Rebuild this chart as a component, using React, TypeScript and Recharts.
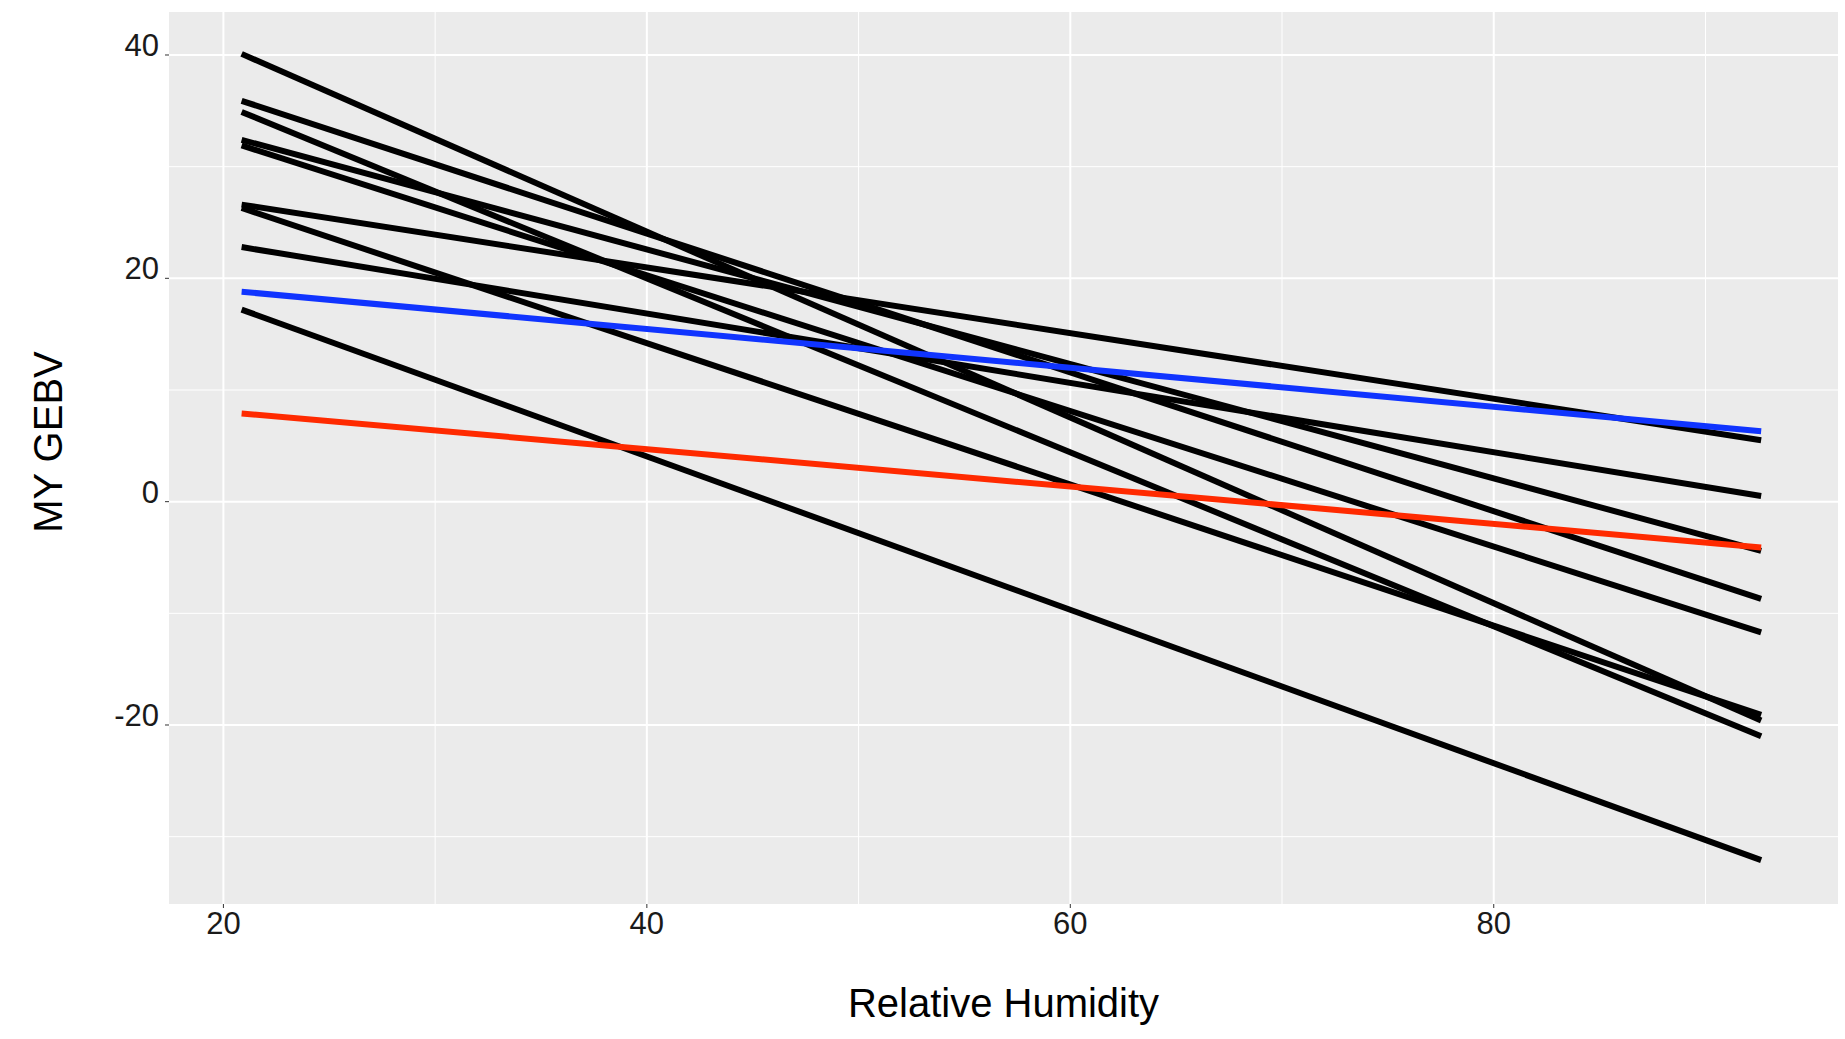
import { LineChart, Line, XAxis, YAxis, CartesianGrid } from 'recharts';

// relative humidity at the two ends of every fitted line
const humidity = [20.86, 92.63];

// black lines: GEBV at low and high humidity
const blackStart = [40.1, 35.9, 34.9, 32.4, 31.9, 26.6, 26.3, 22.8, 17.2];
const blackEnd = [-19.6, -8.7, -21.0, -4.4, -11.7, 5.5, -19.1, 0.5, -32.1];

const blueLine = [18.8, 6.3];
const redLine = [7.9, -4.1];

const xTicks = [20, 40, 60, 80];
const xMinor = [30, 50, 70, 90];
const yTicks = [-20, 0, 20, 40];
const yMinor = [-30, -10, 10, 30];

const FONT = '"Liberation Sans", Arial, Helvetica, sans-serif';
const TEXT = '#1a1a1a';

const toPoints = (pair: number[]) => humidity.map((x, i) => ({ x, y: pair[i] }));

const blackSeries = blackStart.map((s, i) => toPoints([s, blackEnd[i]]));

function YTick(props: any) {
  const { x, y, payload } = props;
  return (
    <text x={x - 4} y={y + 1} textAnchor="end" fontSize={31} fill={TEXT} fontFamily={FONT}>
      {payload.value}
    </text>
  );
}

function XTick(props: any) {
  const { x, y, payload } = props;
  return (
    <text x={x} y={y + 24} textAnchor="middle" fontSize={31} fill={TEXT} fontFamily={FONT}>
      {payload.value}
    </text>
  );
}

function YTitle(props: any) {
  const { viewBox } = props;
  const cx = viewBox.x + 62;
  const cy = viewBox.y + viewBox.height / 2 - 16;
  return (
    <text
      x={cx}
      y={cy}
      textAnchor="middle"
      fontSize={40}
      fill="#000"
      fontFamily={FONT}
      transform={`rotate(-90, ${cx}, ${cy})`}
    >
      MY GEBV
    </text>
  );
}

export default function App() {
  return (
    <div style={{ position: 'absolute', left: 0, top: 0, width: 1845, height: 1039, background: '#fff' }}>
      <LineChart width={1845} height={1039} margin={{ top: 12, right: 7, bottom: 0, left: 0 }}>
        <CartesianGrid
          fill="#EBEBEB"
          stroke="#ffffff"
          strokeWidth={1}
          horizontalValues={yMinor}
          verticalValues={xMinor}
        />
        <CartesianGrid
          stroke="#ffffff"
          strokeWidth={2}
          horizontalValues={yTicks}
          verticalValues={xTicks}
        />
        <XAxis
          type="number"
          dataKey="x"
          domain={[17.43, 96.26]}
          ticks={xTicks}
          allowDataOverflow
          height={135}
          axisLine={false}
          tickLine={{ stroke: '#333', strokeWidth: 1 }}
          tickSize={4}
          tick={<XTick />}
          label={{
            value: 'Relative Humidity',
            position: 'insideBottom',
            offset: 22,
            fontSize: 40,
            fill: '#000',
            fontFamily: FONT,
          }}
        />
        <YAxis
          type="number"
          dataKey="y"
          domain={[-36.03, 43.85]}
          ticks={yTicks}
          allowDataOverflow
          width={169}
          axisLine={false}
          tickLine={{ stroke: '#333', strokeWidth: 1 }}
          tickSize={4}
          tick={<YTick />}
          label={<YTitle />}
        />
        {blackSeries.map((pts, i) => (
          <Line
            key={i}
            data={pts}
            dataKey="y"
            stroke="#000000"
            strokeWidth={6}
            dot={false}
            activeDot={false}
            isAnimationActive={false}
          />
        ))}
        <Line
          data={toPoints(blueLine)}
          dataKey="y"
          stroke="#1034ff"
          strokeWidth={6}
          dot={false}
          activeDot={false}
          isAnimationActive={false}
        />
        <Line
          data={toPoints(redLine)}
          dataKey="y"
          stroke="#ff2a00"
          strokeWidth={6}
          dot={false}
          activeDot={false}
          isAnimationActive={false}
        />
      </LineChart>
    </div>
  );
}
